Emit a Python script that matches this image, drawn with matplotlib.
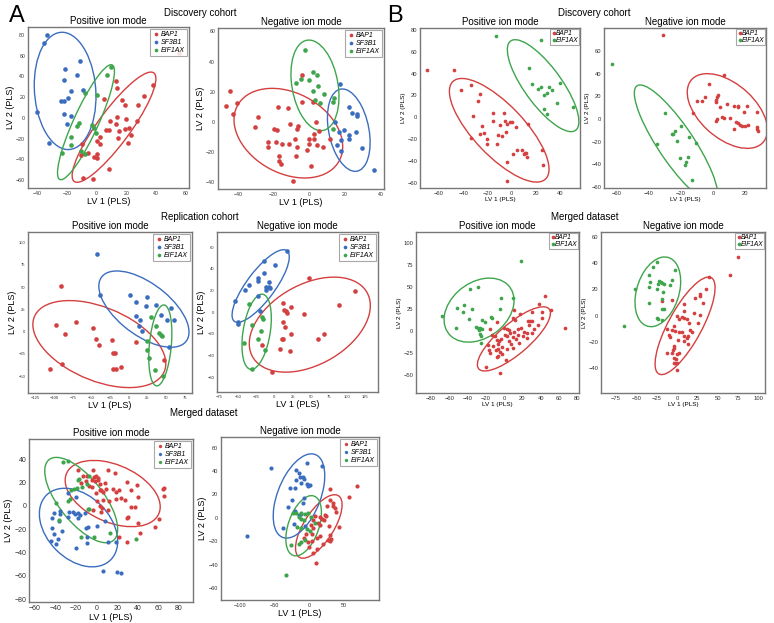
import numpy as np
import matplotlib
matplotlib.use('Agg')
import matplotlib.pyplot as plt
import matplotlib.transforms as transforms
from matplotlib.patches import Ellipse

plt.rcParams['font.family'] = ['Liberation Sans', 'DejaVu Sans']

RED = '#d43f3f'
BLUE = '#3b6dbf'
GREEN = '#3ea54c'
COLORS = {'BAP1': RED, 'SF3B1': BLUE, 'EIF1AX': GREEN}

# ---- Panel A, discovery cohort, positive ion mode
A1_BAP1 = [(38, 32), (13, 36), (14, 29), (31.5, 21), (5, 18), (17, 17), (19, 12), (28, 12), (9, -3), (14, 1),
           (20, -1), (27, -3), (13, -6), (22, -10), (19, -11), (6.5, -12), (8, -12), (15, -12.6), (23, -17),
           (14.6, -19), (2.4, -18), (21, -24), (-10, -25), (0.4, -22), (2.6, -25), (0, -35), (-2, -38), (0, -39),
           (-6, -34), (-10.5, -35.5), (8.5, -49), (-9, -58), (-2.6, -59), (55, 63)]
A1_SF3B1 = [(-33, 80), (-35, 72), (-11, 55), (-21, 47), (-22, 37), (-13, 41), (-17, 26), (-9, 27), (-19, 19),
            (-24, 16), (-22, 16), (-40, 6), (-22, 4), (-17, 2), (-20, -6), (-32, -24)]
A1_EIF1AX = [(10, 49), (7, 41), (-8, 24), (0, 22), (-12, -5), (-13, -8), (-3, -7), (-2, -10), (-0.5, -15),
             (-17, -18), (-17, -26), (-10.5, -32), (-23, -34), (-8, -35)]
# ellipse: centre x, centre y, half range x, half range y, correlation
A1_ELL = {'BAP1': (11.7, -9, 28.1, 53.2, 0.88), 'SF3B1': (-21.1, 26, 20.7, 56.6, -0.1),
          'EIF1AX': (-7.1, -4.2, 19.1, 55.5, 0.88)}

# ---- Panel A, discovery cohort, negative ion mode
A2_BAP1 = [(-47, 10.4), (-44.7, 20.5), (-40.4, 12.6), (-43, 5), (-28.6, 3.3), (-30.3, -3.3), (-19.7, -4.4),
           (-18.4, -5.3), (-17.3, 9.7), (-12.2, 9.3), (-23.3, -13.5), (-23.3, -16.6), (-18.6, -13), (-15.2, -14.3),
           (-11.1, -1.5), (-6.4, -2.9), (-6.8, -4.9), (-11.3, -14.3), (-7.9, -11.3), (-3.9, 13.2), (2.3, 13),
           (-4.1, 31.3), (3.6, 0), (5.6, -6.2), (2.4, -7.9), (0, -11.3), (0, -14.3), (2.6, -11.3), (4.5, -15.5),
           (7.9, -16.6), (-7, -16.6), (-7.7, -22.7), (-1.5, -18.8), (-17.1, -22.7), (-16.9, -25.8), (-16, -27.8),
           (0.8, -29.4), (-9, -39.3), (11.8, -11.3)]
A2_SF3B1 = [(17.5, 24.9), (22.6, 9.9), (24.2, 6), (26.9, 5.5), (27.1, 4.2), (14.5, 0), (19.4, -5.5), (16.7, -6.8),
            (22.4, -8.4), (22.4, -11.3), (26.3, -6.6), (17.9, -11.7), (15.8, -15.5), (17.7, -19), (29.5, -17.2),
            (36.1, -31.6)]
A2_EIF1AX = [(-2.3, 47.5), (2.3, 33.1), (4.5, 31.3), (-4.9, 28.7), (-0.4, 28), (-7.5, 25.6), (5.1, 23.6),
             (2.3, 20.3), (8.5, 18.3), (14.1, 15.9), (13.2, 13.2), (3.4, 14.3), (6.2, 12.4), (13.2, -4.6)]
A2_ELL = {'BAP1': (-11.75, -7.4, 30.55, 29.7, -0.3), 'SF3B1': (22.2, -5.4, 12, 27.3, -0.3),
          'EIF1AX': (3.2, 24.3, 13.5, 30, -0.25)}

# ---- Panel A, replication cohort, positive ion mode
A3_BAP1 = [(-90.3, 51.7), (-98, 7.5), (-85.8, -2.6), (-71, 11.2), (-48.1, 4.1), (-43.6, -8.6), (-39.1, -15.4),
           (-22.5, -9.4), (-20.7, -24), (-18, -24.3), (10.3, -11.2), (-9.9, -39.3), (-20.7, -41.9), (-17.1, -41.9),
           (-89.9, -36.7), (-105, -42.3), (47.2, -31.8)]
A3_SF3B1 = [(-42.2, 87.3), (-38.2, 41.6), (1.3, 41.2), (9.9, 33.7), (24.3, 39), (23.4, 28.8), (36.4, 29.6),
            (56.6, 26.2), (9.4, 17.2), (15.3, 13.5), (13.5, 6.7), (18.4, 0.7), (43.9, 18.4), (52.1, 12.7),
            (61.1, 13.1), (54.8, -16.9)]
A3_EIF1AX = [(30.1, 16.1), (36.4, 6.7), (41.3, -1.9), (43.9, -3.7), (45.4, -4.9), (24.3, -10.5), (24.7, -21),
             (27.9, -29.6), (35.5, -43.4), (46.7, -50.2)]
A3_ELL = {'BAP1': (-39.3, -14, 89.2, 48.9, -0.45), 'SF3B1': (20.5, 25.3, 60.5, 42.9, -0.6),
          'EIF1AX': (42.5, -15.5, 15.5, 45.5, 0.3)}

# ---- Panel A, replication cohort, negative ion mode
A4_BAP1 = [(47.9, 31.8), (111, 19.8), (88.1, 7.1), (12.3, 8.6), (12.8, 2.2), (16, 1.5), (17.8, -0.3), (23.3, 4.9),
           (41.1, -1.9), (11.9, -9), (14.2, -13.3), (22.8, -20.4), (11.9, -25), (10.5, -25), (59.4, -24.7),
           (68.5, -20), (7.3, -34.3), (21, -35.8), (-3.7, -55.2), (-16.4, -30.6)]
A4_SF3B1 = [(16.9, 56.2), (-14.6, 47.5), (0.5, 43.2), (-14.6, 36.4), (-22.8, 31.2), (-22.4, 28.7), (-6.8, 27.8),
            (-34.7, 25.3), (-40.6, 20.7), (-11.4, 23.1), (-7.8, 23.1), (-5.5, 22.2), (-11.4, 20.7), (-22.8, 14.8),
            (-54.3, 10.2), (-20.1, 1.2), (-49.3, -10.5), (-49.8, -9)]
A4_EIF1AX = [(-34.2, 7.7), (-31, -11.7), (-16.9, -4), (-15.5, -6.5), (-18.3, -17.3), (-41.1, -28.1), (-22.4, -25),
             (-12.3, -34.9), (-31, -51.9)]
A4_ELL = {'BAP1': (48.6, -11.4, 82.9, 43.8, 0.4), 'SF3B1': (-18.7, 24.2, 39.2, 33.5, 0.8),
          'EIF1AX': (-24.2, -18, 20.1, 34.7, 0.36)}

# ---- Panel A, merged dataset, positive ion mode
A5_BAP1 = [(-18.6, 30.5), (-3.6, 30.5), (11.1, 30.7), (17.9, 27.9), (-13.7, 25.3), (-9.1, 25.9), (-2.6, 24.7),
           (-0.3, 25.3), (1.6, 24.1), (-4.6, 22.1), (-1.6, 21.6), (1, 22.4), (-10.7, 21), (-15.3, 20.1), (-7.5, 17),
           (-4.2, 16.1), (3.6, 19), (8.5, 19.8), (3.6, 13.8), (4.2, 13.5), (-0.3, 11.5), (6.2, 12.4), (9.4, 14.4),
           (16, 14.4), (18.9, 12.1), (22.1, 13.8), (29.3, 20.4), (39.1, 17.8), (33.6, 13.8), (23.5, 7.2),
           (18.9, 5.7), (27.4, 5.2), (6.5, 5.2), (0, 4.6), (12.4, 4.6), (40.1, 7.5), (33.6, -0.6), (37.5, -1.1),
           (30.9, -9.2), (29.3, -10.6), (40.1, -14.9), (10.7, -3.4), (4.9, -2), (3.9, -4.9), (-3.3, -3.4),
           (3.3, 0), (21.8, -27), (29.3, -31), (42.7, -23.6), (57.3, -17.8), (60.3, -11.5), (64.5, 14.4),
           (65.5, 15.2), (65.1, 8.6)]
A5_SF3B1 = [(-27.7, 11.5), (-20.2, 7.5), (-35.8, -4), (-41, -5.7), (-35.8, -6.9), (-27, -5.5), (-27.7, -9.8),
            (-22.8, -4.9), (-20.8, -6.9), (-18.2, -6.3), (-16.3, -7.8), (-18.2, -10.6), (-11.1, -6.3), (-43, -10.6),
            (-36.2, -12.9), (-43, -19), (-33.2, -21.6), (-41.4, -24.4), (-37.1, -28.2), (-44.3, -30.5),
            (-39.4, -32.5), (-19.9, -35.9), (-8.8, -18.4), (-10.4, -18.7), (0.3, -17.2), (-9.1, -26.4),
            (-9.1, -31.6), (7.8, -13.2), (10.7, -30.7), (19.2, -30.7), (6.5, -56.3), (19.5, -56.9), (23.8, -57.5)]
A5_EIF1AX = [(-32.9, 37.6), (-28.3, 38.8), (-18.6, 22.4), (-16.9, 23), (-7.5, 25.3), (-9.8, 18.7), (-21.8, 14.4),
             (-18.9, 15.2), (-14.7, 16.1), (-25.1, 13.8), (-26.1, 5.7), (-28, 4.3), (-39.1, 2.3), (-36.8, -12.1),
             (-8.1, -2.6), (-7.2, -2.6), (-15.3, -26.4), (-2.6, -26.4), (12.7, -23), (38.4, -28.7)]
A5_ELL = {'BAP1': (15.65, 10.65, 46.25, 28.45, -0.4), 'SF3B1': (-17.6, -18.55, 38.1, 33.75, -0.35),
          'EIF1AX': (-15, 5.05, 35.5, 36.65, -0.68)}

# ---- Panel A, merged dataset, negative ion mode
A6_BAP1 = [(30.6, 24.6), (68.9, 27.4), (56.9, 17.7), (30.6, 15.4), (34, 12.6), (34.9, 9.7), (25.4, 9.7),
           (22.5, 2.3), (36.8, 8.3), (38.3, 4.9), (42.6, -8.3), (24.9, 1.1), (21.5, -1.7), (15.8, 0.6), (18.7, -1.1),
           (9.1, 1.7), (6.2, -1.7), (2.9, -6), (5.7, -9.1), (13.4, -4.3), (16.3, -6), (29.2, -7.4), (30.6, -14.6),
           (32.1, -18.3), (26.8, -18.9), (29.7, -20.3), (20.6, -22.6), (11, -17.4), (16.3, -16), (-4.3, -13.7),
           (-7.7, -17.4), (4.3, -13.7), (4.3, -19.7), (-1.4, -21.1), (0.5, -24.6), (5.7, -30), (11, -26.3),
           (10, -38.3)]
A6_SF3B1 = [(-55.5, 42.9), (-3.3, 46.6), (-19.1, 40.6), (-15.3, 38.3), (-12.9, 34.9), (-8.6, 34.9), (-7.2, 33.1),
            (-19.1, 32), (-2.9, 29.1), (-1.4, 28), (1, 28.3), (-1, 26.9), (-11, 29.4), (-27.8, 25.4), (-20.1, 25.4),
            (19.1, 44), (-24.4, 15.1), (-8.1, 16.6), (-9.1, 12.6), (-30.6, 9.1), (-20.1, 5.4), (-14.4, 2.6),
            (-12, 2.9), (-38.3, -8.6), (-22.5, -5.4), (-5.3, -6.9), (-89, -15.7)]
A6_EIF1AX = [(-23.4, 4), (-19.1, 3.7), (-11, 4), (-6.2, 3.1), (-1, 4), (-15.3, 0.3), (-12, -0.9), (-6.7, -1.7),
             (2.9, 0.6), (-17.7, -8), (-11.5, -9.1), (-2.9, -10), (1.4, -11.1), (-12.4, -20.9), (-14.4, -22.6),
             (-25.8, -23.4), (-6.2, -18.9), (-33.5, -48.9), (9.1, -4.6)]
A6_ELL = {'BAP1': (13.9, -7.45, 33.5, 27.15, 0.68), 'SF3B1': (-14.6, 18.6, 37.1, 36, 0.48),
          'EIF1AX': (-7.9, -6.85, 25.6, 25.75, 0.44)}

# ---- Panel B, discovery cohort, positive ion mode
B1_BAP1 = [(-70.2, 43.5), (-47.7, 43.5), (-41.6, 24.9), (-33.3, 29.2), (-25.9, 21.3), (-27.8, 14.9), (-31.7, 1.5),
           (-15.4, 4), (-6.6, 4.3), (-24.2, -8.2), (-15.7, -3.6), (-9.4, -6.7), (-1.4, -4.3), (0.3, -4.3),
           (-3.6, -6.1), (3.6, -8.8), (-5, -13.7), (-25.9, -15.2), (-23.1, -14.3), (-20.4, -19.5), (-33.9, -18.8),
           (-20.7, -24.3), (-11, -16.4), (-7.7, -17.3), (-11.8, -24.3), (13.8, -5.8), (4.7, -30.1), (8.5, -30.1),
           (9.9, -33.7), (11.3, -32.5), (12.4, -36.5), (11.8, -32.2), (0.8, -34), (24.8, -29.5), (25.6, -43.8),
           (-3.6, -41.3), (-3.6, -58), (-5.5, -3)]
B1_EIF1AX = [(-13.2, 74.8), (24, 70.8), (14.3, 45), (17.1, 30.7), (21.5, 25.8), (24, 28), (30.6, 27.4), (33, 25),
             (39.7, 31), (26.4, 20.4), (29.2, 22.5), (37.2, 13.4), (27, 7.3), (50.4, 9.7), (29.2, 3)]
B1_ELL = {'BAP1': (-10.3, -11.85, 41.2, 47.45, -0.75), 'EIF1AX': (26, 29, 29.6, 42.1, -0.78)}

# ---- Panel B, discovery cohort, negative ion mode
B2_BAP1 = [(-31, 73.8), (6.9, 38.8), (-2.5, 30.9), (2.9, 21.5), (2.5, 19.4), (2.1, 17.1), (2.1, 15.3), (-4.8, 19.4),
           (-9.8, 16.2), (-6.9, 16.2), (9, 13.2), (4.2, 10.6), (12.9, 11.8), (15.6, 11.8), (15.6, 10.6), (21, 11.2),
           (27.3, 6.2), (-12.5, 5.3), (19.6, 6.5), (5.6, 1.8), (6.7, 0.9), (10.6, 1.2), (2.7, -0.3), (2.1, -1.8),
           (14.6, -2.9), (15.6, -3.8), (16.7, -5), (18.1, -5.9), (19.8, -5.9), (21.7, -5), (13.1, -9.1),
           (27.3, -7.4), (28.3, -10.6), (27.7, -8.5)]
B2_EIF1AX = [(-63.1, 48.5), (-29.6, 5), (-35, -21.8), (-20, -5.9), (-23.5, -10.3), (-24.8, -12.9), (-25.8, -13.5),
             (-22.5, -19.1), (-15, -15.6), (-10.4, -21.5), (-20.8, -34.1), (-15.8, -33.8), (-16.5, -37.6),
             (-17.1, -40.9), (-13.1, -54.1)]
B2_ELL = {'BAP1': (9, 7, 25, 33, -0.5), 'EIF1AX': (-23, -22, 26, 52, -0.86)}

# ---- Panel B, merged dataset, positive ion mode
B3_BAP1 = [(44.5, 40.5), (38.3, 31.4), (51.5, 24.6), (66.4, 4.2), (30.7, 22.3), (41.2, 22.3), (25.9, 11.4),
           (28.1, 11.4), (31, 12.1), (41.2, 15.5), (10.9, 23.9), (17.9, 19.3), (27.4, 6.8), (37.6, 6.8), (32.8, 2.3),
           (10.2, 15.2), (12.4, 12.9), (-7.3, 10.2), (-15, 2.7), (0, 4.2), (2.9, 2.3), (5.5, 1.1), (15.3, 2.7),
           (18.6, 3.8), (11.3, -0.8), (6.2, -2.3), (21.9, -0.8), (25.5, -2.3), (30.7, -2.3), (15.7, -4.2),
           (20.8, -5.3), (1.5, -4.2), (3.3, -5.7), (10.2, -6.8), (12.8, -9.1), (24.8, -8), (-13.5, -4.2),
           (-9.9, -5.3), (-3.3, -8.3), (-8, -9.8), (-5.5, -10.6), (5.1, -11), (8, -14), (16.4, -12.9),
           (-6.2, -14.8), (-11.7, -17), (-17.9, -15.5), (-16.8, -21.2), (-15.3, -25), (-9.1, -21.6), (-6.6, -20),
           (-4.4, -23.1), (-1.8, -17.8), (-2.6, -25.4), (3.6, -19.7), (9.5, -19.3), (1.8, -32.6), (-8, -29.5),
           (-6.2, -28), (-19.3, -40.2), (-4, -47.3)]
B3_EIF1AX = [(18.6, 80.3), (-28.8, 50), (-37.2, 47.7), (-43.4, 30.3), (-34.7, 25.8), (-51.5, 26.9), (-44.9, 21.6),
             (-67.5, 17.8), (-52.2, 4.2), (-38.7, 13.6), (-31, 4.9), (-28.8, 3.8), (-25.9, 4.2), (-23.7, 3),
             (-27, 1.5), (-26.3, -3), (-25.2, -5.7), (-23.7, 12.5), (-20.8, 11), (-14.6, 16.3), (-13.5, 15.5),
             (-3.3, 38.3), (-4, 25.8), (9.5, 37.5), (-25.5, -12.9)]
B3_ELL = {'BAP1': (10.75, -8.5, 40, 36.5, 0.8), 'EIF1AX': (-27.4, 24.2, 38.3, 36.4, 0.3)}

# ---- Panel B, merged dataset, negative ion mode
B4_BAP1 = [(74.6, 44.7), (64.8, 31.2), (39.8, 29.7), (35.2, 20.6), (28.3, 16.5), (28.3, 14.7), (22.1, 13.5),
           (32.4, 9.6), (-6.1, 11.7), (9, 9.1), (8.6, 3.8), (20.9, 2), (28.3, 0.8), (6.6, -1), (9, -2), (11.9, -2.5),
           (0, -0.5), (2.9, -2.3), (26.2, -5.3), (15.2, -5.6), (-3.3, -8.1), (-11.9, -10.2), (-5.7, -11.2),
           (-2.5, -11.4), (2, -12.4), (5.7, -12.7), (16.4, -11.2), (18, -12.7), (-10.2, -15), (-8.2, -16),
           (8.2, -15.2), (13.9, -15.7), (12.7, -17), (1.2, -18.3), (8.6, -19), (13.9, -21.3), (-4.1, -23.1),
           (-3.3, -24.6), (-4.9, -25.9), (-12.3, -28.4), (-5.7, -28.4), (-0.4, -29.2), (2.5, -28.7), (-3.7, -32.5),
           (-1.6, -32.7), (-2.5, -36), (-4.1, -36), (-0.4, -36), (0, -41.1), (-18, 11.2)]
B4_EIF1AX = [(-24.2, 40.6), (-29.5, 36.8), (-2, 34.5), (-34, 31), (-33.6, 25.4), (-22.1, 26.1), (-20.1, 25.4),
             (-18, 24.9), (-16, 24.4), (-22.9, 23.9), (-5.7, 26.9), (-8.6, 23.6), (-51.6, 20.1), (-34.8, 21.6),
             (-24.6, 20.3), (-17.6, 17.8), (-18, 12.9), (-34, 9.4), (-16, 5.3), (-18.9, 4.8), (-25, -2),
             (-23.4, -2.3), (-18, -3.3), (-64.8, -7.9)]
B4_ELL = {'BAP1': (9.85, -7.75, 36.85, 37.15, 0.78), 'EIF1AX': (-23.6, 18.15, 28.05, 26.55, 0.3)}

W, H = 774, 623
fig = plt.figure(figsize=(W / 100, H / 100), dpi=100)


def add_ax(l, t, r, b):
    return fig.add_axes([l / W, 1 - b / H, (r - l) / W, (b - t) / H])


def ellipse(ax, par, color):
    cx, cy, sx, sy, rho = par
    e = Ellipse((0, 0), width=2 * np.sqrt(1 + rho), height=2 * np.sqrt(1 - rho),
                facecolor='none', edgecolor=color, lw=1.0)
    t = transforms.Affine2D().rotate_deg(45).scale(sx, sy).translate(cx, cy)
    e.set_transform(t + ax.transData)
    ax.add_patch(e)


def panel(ax, groups, ells, title, xlim, ylim, xticks, yticks, big=True, tick_fs=4, ms=11):
    for name, pts in groups:
        pts = np.array(pts)
        ax.scatter(pts[:, 0], pts[:, 1], s=ms, color=COLORS[name], label=name,
                   linewidths=0, zorder=3)
    for name, _ in groups:
        ellipse(ax, ells[name], COLORS[name])
    ax.set_xlim(*xlim)
    ax.set_ylim(*ylim)
    ax.set_xticks(xticks)
    ax.set_yticks(yticks)
    ax.tick_params(length=0, labelsize=tick_fs, pad=2, colors='#333333')
    for s in ax.spines.values():
        s.set_color('#777777')
        s.set_linewidth(1.0)
    ax.set_title(title, fontsize=7, pad=2.5)
    lab_fs = 6.5 if big else 4.6
    ax.set_xlabel('LV 1 (PLS)', fontsize=lab_fs, labelpad=1)
    ax.set_ylabel('LV 2 (PLS)', fontsize=lab_fs, labelpad=1)
    if big:
        leg = ax.legend(loc='upper right', prop={'style': 'italic', 'size': 5},
                        handletextpad=0.2, borderpad=0.3, labelspacing=0.1, borderaxespad=0.3,
                        handlelength=1.0, markerscale=0.8, framealpha=0.85, fancybox=False)
    else:
        leg = ax.legend(loc='upper right', prop={'style': 'italic', 'size': 4.8},
                        handletextpad=-0.3, borderpad=0.1, labelspacing=0.0, borderaxespad=0.2,
                        handlelength=1.0, markerscale=1.0, framealpha=0.85, fancybox=False)
    leg.get_frame().set_edgecolor('#999999')
    leg.get_frame().set_linewidth(0.8)


ax = add_ax(28, 27, 189, 188)
panel(ax, [('BAP1', A1_BAP1), ('SF3B1', A1_SF3B1), ('EIF1AX', A1_EIF1AX)], A1_ELL, 'Positive ion mode',
      (-46, 62), (-67.7, 87.7), range(-40, 61, 20), range(-60, 81, 20), tick_fs=3.8)
ax = add_ax(218, 28, 384, 189)
panel(ax, [('BAP1', A2_BAP1), ('SF3B1', A2_SF3B1), ('EIF1AX', A2_EIF1AX)], A2_ELL, 'Negative ion mode',
      (-51.3, 42), (-44.4, 62.3), range(-40, 41, 20), range(-40, 61, 20), tick_fs=3.8)
ax = add_ax(28, 232, 192, 393)
panel(ax, [('BAP1', A3_BAP1), ('SF3B1', A3_SF3B1), ('EIF1AX', A3_EIF1AX)], A3_ELL, 'Positive ion mode',
      (-135, 85), (-69, 112), range(-125, 76, 25), range(-50, 101, 25), tick_fs=3.0)
ax = add_ax(217, 232, 378, 392)
panel(ax, [('BAP1', A4_BAP1), ('SF3B1', A4_SF3B1), ('EIF1AX', A4_EIF1AX)], A4_ELL, 'Negative ion mode',
      (-78.5, 142), (-73.5, 74), range(-75, 126, 25), range(-60, 61, 20), tick_fs=3.0)
ax = add_ax(29, 439, 193, 602)
panel(ax, [('BAP1', A5_BAP1), ('SF3B1', A5_SF3B1), ('EIF1AX', A5_EIF1AX)], A5_ELL, 'Positive ion mode',
      (-65.8, 93.8), (-82.5, 57.5), range(-60, 81, 20), range(-80, 41, 20), tick_fs=5, ms=9)
ax = add_ax(221, 437, 379, 600)
panel(ax, [('BAP1', A6_BAP1), ('SF3B1', A6_SF3B1), ('EIF1AX', A6_EIF1AX)], A6_ELL, 'Negative ion mode',
      (-126.8, 100.5), (-70.3, 69), range(-100, 51, 50), range(-60, 61, 20), tick_fs=4, ms=9)

ax = add_ax(420, 28, 580, 188)
panel(ax, [('BAP1', B1_BAP1), ('EIF1AX', B1_EIF1AX)], B1_ELL, 'Positive ion mode',
      (-75.8, 56.5), (-64.7, 81.8), range(-60, 41, 20), range(-60, 81, 20), big=False, tick_fs=4.2, ms=7)
ax = add_ax(604, 28, 766, 188)
panel(ax, [('BAP1', B2_BAP1), ('EIF1AX', B2_EIF1AX)], B2_ELL, 'Negative ion mode',
      (-67.9, 33.1), (-61, 80.3), range(-60, 21, 20), range(-60, 61, 20), big=False, tick_fs=4.2, ms=7)
ax = add_ax(416, 232, 579, 393)
panel(ax, [('BAP1', B3_BAP1), ('EIF1AX', B3_EIF1AX)], B3_ELL, 'Positive ion mode',
      (-96.4, 82), (-70, 113), range(-80, 81, 20), range(-50, 101, 25), big=False, tick_fs=4.2, ms=7)
ax = add_ax(601, 232, 765, 393)
panel(ax, [('BAP1', B4_BAP1), ('EIF1AX', B4_EIF1AX)], B4_ELL, 'Negative ion mode',
      (-93.4, 108), (-58.9, 63.7), range(-75, 101, 25), range(-40, 61, 20), big=False, tick_fs=4.2, ms=7)

fig.text(9 / W, 1 - 16 / H, 'A', fontsize=17, va='center', ha='left')
fig.text(387 / W, 1 - 16 / H, 'B', fontsize=17, va='center', ha='left')
fig.text(200 / W, 1 - 13 / H, 'Discovery cohort', fontsize=7, ha='center', va='center')
fig.text(200 / W, 1 - 217 / H, 'Replication cohort', fontsize=7, ha='center', va='center')
fig.text(204 / W, 1 - 413 / H, 'Merged dataset', fontsize=7, ha='center', va='center')
fig.text(594 / W, 1 - 13 / H, 'Discovery cohort', fontsize=7, ha='center', va='center')
fig.text(585 / W, 1 - 217 / H, 'Merged dataset', fontsize=7, ha='center', va='center')

fig.savefig('out.png', dpi=100)
